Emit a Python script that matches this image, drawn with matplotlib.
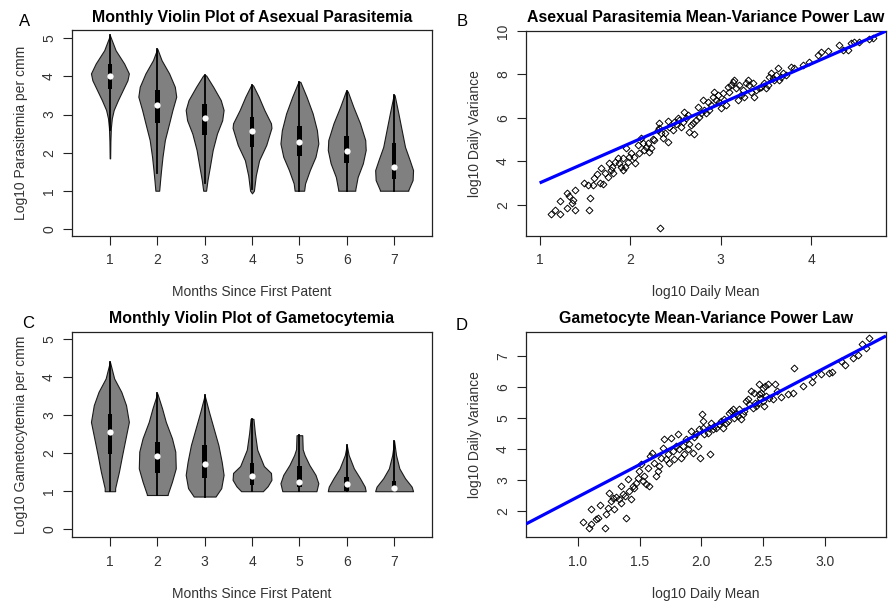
import numpy as np
import matplotlib
matplotlib.use("Agg")
import matplotlib.pyplot as plt

plt.rcParams['font.family'] = ['Liberation Sans', 'DejaVu Sans']

months = [1, 2, 3, 4, 5, 6, 7]

# asexual parasitemia violins
a_prof_y = [
    [1.85, 2.3, 2.65, 2.9, 3.12, 3.38, 3.64, 3.9, 4.08, 4.34, 4.69, 5.08],
    [1.0, 1.28, 1.54, 1.89, 2.33, 2.77, 3.12, 3.47, 3.73, 4.08, 4.43, 4.73],
    [1.0, 1.28, 1.63, 2.07, 2.5, 2.85, 3.12, 3.38, 3.73, 4.03],
    [0.93, 1.0, 1.4, 1.8, 2.2, 2.65, 2.77, 3.12, 3.47, 3.77],
    [1.0, 1.19, 1.54, 1.89, 2.24, 2.59, 3.03, 3.47, 3.86],
    [1.0, 1.03, 1.36, 1.72, 2.07, 2.33, 2.77, 3.2, 3.61],
    [1.0, 1.02, 1.28, 1.54, 1.80, 2.15, 2.59, 3.03, 3.51],
]
a_prof_w = [
    [0.005, 0.01, 0.02, 0.04, 0.08, 0.17, 0.27, 0.37, 0.40, 0.30, 0.12, 0.0],
    [0.04, 0.06, 0.08, 0.11, 0.16, 0.25, 0.32, 0.40, 0.37, 0.25, 0.09, 0.0],
    [0.03, 0.06, 0.11, 0.17, 0.26, 0.37, 0.40, 0.34, 0.18, 0.03],
    [0.0, 0.04, 0.08, 0.15, 0.30, 0.41, 0.40, 0.26, 0.14, 0.02],
    [0.10, 0.12, 0.22, 0.34, 0.40, 0.37, 0.28, 0.15, 0.02],
    [0.18, 0.18, 0.23, 0.34, 0.40, 0.39, 0.28, 0.14, 0.02],
    [0.30, 0.30, 0.39, 0.40, 0.33, 0.23, 0.16, 0.09, 0.01],
]
a_med = [4.0, 3.25, 2.92, 2.58, 2.27, 2.04, 1.61]
a_q1 = [3.68, 2.77, 2.45, 2.15, 1.91, 1.72, 1.32]
a_q3 = [4.34, 3.64, 3.27, 2.94, 2.69, 2.43, 2.24]
a_lo = [2.6, 1.47, 1.2, 1.05, 1.0, 1.0, 1.0]
a_hi = [5.08, 4.73, 4.03, 3.77, 3.86, 3.61, 3.51]

# gametocytemia violins
c_prof_y = [
    [1.0, 1.08, 1.51, 1.96, 2.39, 2.82, 3.26, 3.61, 3.96, 4.4],
    [0.9, 0.92, 1.25, 1.60, 2.04, 2.39, 2.82, 3.18, 3.57],
    [0.86, 1.08, 1.43, 1.77, 2.21, 2.65, 3.09, 3.52],
    [1.0, 1.13, 1.30, 1.48, 1.66, 2.09, 2.53, 2.9],
    [1.0, 1.21, 1.43, 1.69, 1.95, 2.1, 2.47],
    [1.0, 1.12, 1.34, 1.60, 1.95, 2.21],
    [1.0, 1.12, 1.34, 1.60, 1.95, 2.32],
]
c_prof_w = [
    [0.11, 0.11, 0.19, 0.26, 0.33, 0.40, 0.34, 0.24, 0.09, 0.0],
    [0.22, 0.22, 0.31, 0.39, 0.38, 0.31, 0.18, 0.10, 0.0],
    [0.23, 0.35, 0.40, 0.36, 0.29, 0.19, 0.09, 0.0],
    [0.23, 0.33, 0.41, 0.40, 0.25, 0.11, 0.06, 0.03],
    [0.36, 0.40, 0.34, 0.21, 0.11, 0.07, 0.06],
    [0.40, 0.38, 0.28, 0.15, 0.04, 0.0],
    [0.40, 0.37, 0.23, 0.11, 0.04, 0.0],
]
c_med = [2.56, 1.93, 1.71, 1.4, 1.25, 1.18, 1.08]
c_q1 = [1.97, 1.47, 1.34, 1.16, 1.11, 1.0, 1.0]
c_q3 = [3.04, 2.29, 2.21, 1.75, 1.66, 1.38, 1.28]
c_lo = [1.0, 0.9, 0.86, 1.0, 1.0, 1.0, 1.0]
c_hi = [4.4, 3.57, 3.52, 2.9, 2.47, 2.21, 2.32]

# asexual mean-variance (log10 daily mean, log10 daily variance)
b_x = [1.125, 1.173, 1.228, 1.225, 1.302, 1.302, 1.320, 1.365, 1.357, 1.394, 1.394, 1.493,
       1.530, 1.541, 1.560, 1.585, 1.604, 1.630, 1.666, 1.703, 1.677, 1.725, 1.751, 1.770,
       1.788, 1.814, 1.836, 1.862, 1.898, 1.924, 1.954, 1.946, 1.972, 2.009, 2.046, 2.057,
       2.082, 2.101, 2.119, 2.156, 2.175, 2.211, 2.230, 2.248, 2.267, 2.303, 2.322, 2.340,
       2.359, 2.388, 2.414, 2.414, 2.469, 2.506, 2.524, 2.561, 2.580, 2.598, 2.616, 2.635,
       2.653, 2.672, 2.708, 2.727, 2.745, 2.764, 2.800, 2.819, 2.329, 1.799, 1.880, 1.917,
       1.990, 2.138, 2.193, 2.322, 2.432, 2.487, 2.543, 2.690, 2.782,
       2.874, 2.911, 2.929, 2.966, 2.985, 3.003, 3.021, 3.040, 3.058, 3.077, 3.095, 3.113,
       3.132, 3.150, 3.169, 3.187, 3.205, 3.224, 3.242, 3.261, 3.279, 3.297, 3.316, 3.334,
       3.353, 3.371, 3.390, 3.426, 3.445, 3.482, 3.500, 3.518, 3.537, 3.555, 3.574, 3.592,
       3.610, 3.629, 3.647, 3.666, 3.684, 3.721, 3.776, 3.813, 3.905, 3.979, 4.071, 4.108,
       4.181, 4.310, 4.347, 4.402, 4.439, 4.476, 4.531, 4.641, 4.678, 2.856, 2.892, 2.948,
       2.837]
b_y = [1.567, 1.751, 1.551, 2.166, 1.828, 2.519, 2.412, 2.212, 2.089, 1.751, 2.673, 3.011,
       2.903, 1.751, 2.320, 2.903, 3.210, 3.410, 3.011, 2.934, 3.671, 3.441, 3.287, 3.902,
       3.594, 3.441, 3.979, 4.132, 3.748, 4.132, 4.593, 3.748, 3.979, 4.363, 4.209, 3.902,
       4.747, 4.363, 5.054, 4.516, 4.670, 4.439, 4.593, 5.008, 4.977, 5.438, 5.745, 5.284,
       5.054, 5.284, 4.900, 5.868, 5.438, 5.714, 5.975, 5.591, 5.822, 6.283, 5.975, 6.129,
       5.361, 5.668, 5.253, 5.899, 6.513, 6.052, 6.820, 6.359, 0.906, 3.748, 3.902, 3.594,
       4.209, 4.823, 4.823, 5.515, 5.591, 5.822, 5.899, 5.745, 6.206,
       6.359, 6.974, 7.204, 7.051, 6.743, 6.436, 7.127, 6.820, 6.590, 7.435, 7.204, 7.512,
       7.665, 7.742, 7.358, 6.820, 7.512, 7.051, 7.281, 6.974, 7.588, 7.742, 7.512, 7.204,
       7.588, 6.974, 7.281, 7.358, 7.435, 7.588, 7.358, 7.512, 7.896, 8.049, 7.819, 7.742,
       7.972, 8.280, 7.742, 7.896, 8.049, 7.972, 8.356, 8.280, 8.433, 8.587, 8.894, 9.048,
       9.094, 9.355, 9.124, 9.124, 9.462, 9.508, 9.508, 9.616, 9.662, 6.743, 6.590, 6.820,
       6.206]
b_fit_x = [1.0, 4.83]
b_fit_y = [3.0, 10.0]

# gametocyte mean-variance
d_x = [1.038, 1.092, 1.105, 1.105, 1.146, 1.159, 1.178, 1.222, 1.227, 1.241, 1.254, 1.268,
       1.281, 1.295, 1.308, 1.335, 1.349, 1.349, 1.362, 1.384, 1.389, 1.403, 1.416, 1.430,
       1.443, 1.457, 1.470, 1.484, 1.497, 1.511, 1.524, 1.538, 1.551, 1.565, 1.578, 1.584,
       1.600, 1.619, 1.632, 1.646, 1.659, 1.673, 1.686, 1.700, 1.714, 1.727, 1.741, 1.754,
       1.768, 1.781, 1.795, 1.808, 1.822, 1.835, 1.849, 1.862, 1.876, 1.889, 1.903, 1.916,
       1.930, 1.943, 1.957, 1.970, 1.984, 1.989, 2.005, 2.011, 2.024, 2.011,
       2.051, 2.065, 2.078, 2.070, 2.092, 2.105, 2.119, 2.141, 2.159, 2.173, 2.186, 2.200,
       2.214, 2.227, 2.241, 2.254, 2.268, 2.281, 2.295, 2.308, 2.322, 2.335, 2.349, 2.362,
       2.376, 2.389, 2.403, 2.416, 2.430, 2.438, 2.443, 2.457, 2.465, 2.470, 2.476, 2.484,
       2.497, 2.503, 2.511, 2.519, 2.524, 2.538, 2.551, 2.578, 2.600, 2.611, 2.646, 2.700,
       2.746, 2.754, 2.827, 2.897, 2.908, 2.970, 3.038, 3.059, 3.132, 3.168, 3.227, 3.268,
       3.303, 3.335, 3.362]
d_y = [1.644, 1.450, 1.580, 2.043, 1.720, 1.774, 2.183, 1.450, 1.882, 2.097, 2.582, 2.313,
       2.420, 2.043, 2.442, 2.366, 2.259, 2.797, 2.528, 2.474, 1.752, 3.013, 2.636, 2.366,
       2.797, 2.744, 2.905, 3.067, 3.282, 3.498, 2.959, 3.121, 2.851, 3.390, 2.797, 3.767,
       3.875, 3.552, 3.121, 3.282, 3.444, 3.713, 4.037, 4.306, 3.659, 3.821, 3.552, 4.360,
       3.929, 3.659, 4.091, 4.468, 3.983, 3.713, 4.091, 3.821, 4.306, 3.983, 4.144, 4.575,
       3.875, 4.381, 4.468, 4.091, 4.629, 3.692, 5.114, 4.683, 4.468, 4.899,
       4.522, 4.683, 4.845, 3.821, 4.629, 4.737, 4.683, 4.791, 4.899, 4.683, 4.953, 4.845,
       4.899, 5.168, 5.222, 5.276, 5.006, 5.114, 5.060, 5.276, 4.953, 5.114, 5.222, 5.545,
       5.599, 5.459, 5.869, 5.330, 5.815, 5.491, 5.384, 5.491, 6.106, 5.761, 5.653, 5.815,
       5.545, 5.976, 5.384, 6.030, 5.707, 6.106, 5.653, 5.599, 6.084, 5.869, 5.675, 5.782,
       5.815, 6.623, 6.030, 6.170, 6.353, 6.407, 6.461, 6.494, 6.838, 6.709, 6.946, 7.032,
       7.377, 7.269, 7.571]
d_fit_x = [0.578, 3.497]
d_fit_y = [1.57, 7.65]

txt = '#333333'


def style_axes(ax):
    for s in ax.spines.values():
        s.set_color('#222222')
        s.set_linewidth(0.9)
    ax.tick_params(direction='out', length=6.5, width=0.8, color='#222222',
                   labelsize=10, labelcolor=txt, pad=6)
    ax.tick_params(axis='y', pad=5)


def violin_panel(ax, prof_y, prof_w, med, q1, q3, lo, hi, title, ylabel):
    for i, m in enumerate(months):
        y = np.array(prof_y[i])
        w = np.array(prof_w[i])
        ax.fill_betweenx(y, m - w, m + w, facecolor='#808080', edgecolor='#1a1a1a',
                         linewidth=0.8, zorder=2)
        ax.plot([m, m], [lo[i], hi[i]], color='black', lw=1.3, zorder=3)
        ax.add_patch(plt.Rectangle((m - 0.05, q1[i]), 0.1, q3[i] - q1[i],
                                   facecolor='black', edgecolor='none', zorder=4))
        ax.plot(m, med[i], 'o', color='white', ms=4.5, mec='none', zorder=5)
    ax.set_xlim(0.2, 7.8)
    ax.set_xticks(months)
    ax.set_yticks([0, 1, 2, 3, 4, 5])
    ax.set_title(title, fontsize=11.4, fontweight='bold', pad=6)
    ax.set_xlabel('Months Since First Patent', fontsize=10, color=txt, labelpad=13)
    ax.set_ylabel(ylabel, fontsize=10, color=txt, labelpad=10)
    style_axes(ax)


def scatter_panel(ax, x, y, fx, fy, title):
    ax.plot(x, y, 'D', ms=3.5, mfc='none', mec='black', mew=0.7, zorder=2)
    ax.plot(fx, fy, color='#0000ff', lw=2.3, zorder=3, solid_capstyle='butt')
    ax.set_title(title, fontsize=11.4, fontweight='bold', pad=6)
    ax.set_xlabel('log10 Daily Mean', fontsize=10, color=txt, labelpad=13)
    ax.set_ylabel('log10 Daily Variance', fontsize=10, color=txt, labelpad=10)
    style_axes(ax)


fig = plt.figure(figsize=(8.88, 6.03), dpi=100)
ax_a = fig.add_axes([0.0811, 0.6086, 0.4054, 0.3416])
ax_b = fig.add_axes([0.5923, 0.6086, 0.4054, 0.3405])
ax_c = fig.add_axes([0.0811, 0.1090, 0.4054, 0.3410])
ax_d = fig.add_axes([0.5923, 0.1090, 0.4054, 0.3410])

violin_panel(ax_a, a_prof_y, a_prof_w, a_med, a_q1, a_q3, a_lo, a_hi,
             'Monthly Violin Plot of Asexual Parasitemia', 'Log10 Parasitemia per cmm')
ax_a.set_ylim(-0.19, 5.22)

violin_panel(ax_c, c_prof_y, c_prof_w, c_med, c_q1, c_q3, c_lo, c_hi,
             'Monthly Violin Plot of Gametocytemia', 'Log10 Gametocytemia per cmm')
ax_c.set_ylim(-0.21, 5.19)

scatter_panel(ax_b, b_x, b_y, b_fit_x, b_fit_y, 'Asexual Parasitemia Mean-Variance Power Law')
ax_b.set_xlim(0.849, 4.825)
ax_b.set_ylim(0.557, 10.01)
ax_b.set_xticks([1, 2, 3, 4])
ax_b.set_yticks([2, 4, 6, 8, 10])

scatter_panel(ax_d, d_x, d_y, d_fit_x, d_fit_y, 'Gametocyte Mean-Variance Power Law')
ax_d.set_xlim(0.578, 3.497)
ax_d.set_ylim(1.14, 7.79)
ax_d.set_xticks([1.0, 1.5, 2.0, 2.5, 3.0])
ax_d.set_yticks([2, 3, 4, 5, 6, 7])

for ax in (ax_a, ax_b, ax_c, ax_d):
    for lab in ax.get_yticklabels():
        lab.set_rotation(90)
        lab.set_va('center')

fig.text(25 / 888, 1 - 22 / 603, 'A', fontsize=12, ha='center', va='center')
fig.text(462 / 888, 1 - 22 / 603, 'B', fontsize=12, ha='center', va='center')
fig.text(28 / 888, 1 - 323 / 603, 'C', fontsize=12, ha='center', va='center')
fig.text(462 / 888, 1 - 325 / 603, 'D', fontsize=12, ha='center', va='center')

fig.savefig('out.png', dpi=100)
